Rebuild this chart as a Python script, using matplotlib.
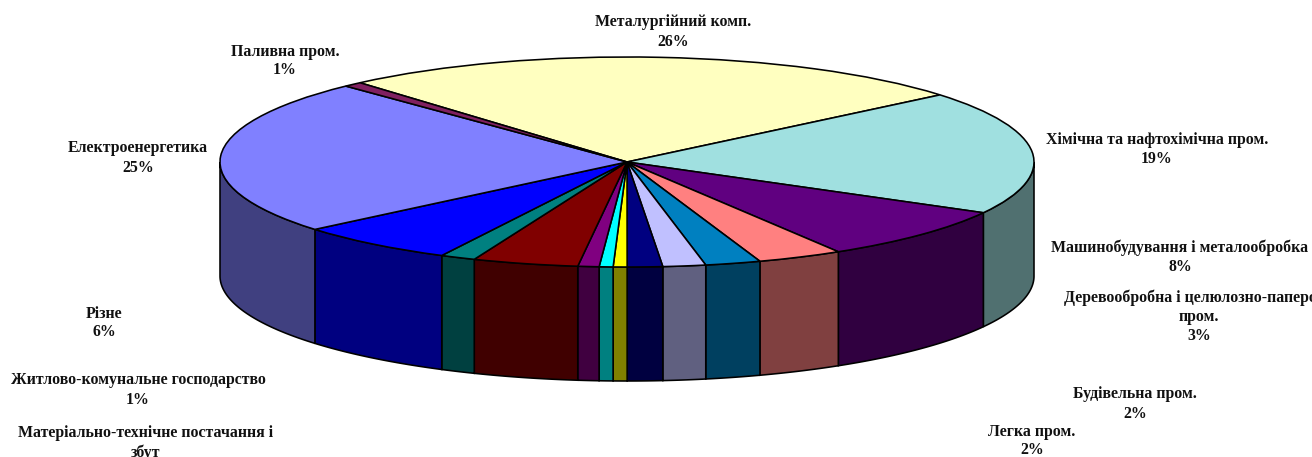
import numpy as np
import matplotlib
matplotlib.use('Agg')
import matplotlib.pyplot as plt

# slices clockwise, starting from the metallurgy one
shares = [25.4, 19.1, 8.3, 3.4, 2.2, 1.7, 1.4, 0.55, 0.55, 0.84, 4.2, 1.4, 6.4, 24.0, 0.75]
top_colors = ['#FFFFC0', '#A0E0E0', '#600080', '#FF8080', '#0080C0', '#C0C0FF', '#000080', '#FFFF00',
              '#00FFFF', '#800080', '#800000', '#008080', '#0000FF', '#8080FF', '#802060']
side_colors = ['#808060', '#507070', '#300040', '#804040', '#004060', '#606080', '#000040', '#808000',
               '#008080', '#400040', '#400000', '#004040', '#000080', '#404080', '#401030']

labels = ['Металургійний комп.\n26%', 'Хімічна та нафтохімічна пром.\n19%',
          'Машинобудування і металообробка\n8%', 'Деревообробна і целюлозно-паперова\nпром.\n3%',
          'Будівельна пром.\n2%', 'Легка пром.\n2%', 'Матеріально-технічне постачання і\nзбут',
          'Житлово-комунальне господарство\n1%', 'Різне\n6%', 'Електроенергетика\n25%', 'Паливна пром.\n1%']
label_x = [673, 1157, 1180, 1199, 1135, 1032, 146, 138, 104, 138, 285]
label_y = [32, 150, 257, 317, 404, 441, 443, 390, 323, 158, 61]

W, H = 1312, 457
cx, cy, rx, ry, depth = 627, 162, 407, 105, 114
start = -41.0  # degrees clockwise from the top

plt.rcParams['font.family'] = ['Liberation Serif', 'DejaVu Serif']
fig = plt.figure(figsize=(W / 100, H / 100), dpi=100)
ax = fig.add_axes([0, 0, 1, 1])

# one data unit = rx px across and ry px up, so the pie comes out as an ellipse
wedges, _ = ax.pie(shares, colors=top_colors, startangle=90 - start, counterclock=False,
                   radius=1, wedgeprops={'edgecolor': 'black', 'linewidth': 1.15})
for w in wedges:
    w.set_zorder(3)
ax.set_aspect('auto')
ax.set_xlim(-cx / rx, (W - cx) / rx)
ax.set_ylim((cy - H) / ry, cy / ry)
ax.axis('off')

# visible side wall, only the front half of the rim
d = depth / ry
edges = start + 360 * np.cumsum([0] + shares) / sum(shares)
for a, b, col in zip(edges[:-1], edges[1:], side_colors):
    for k in (0, 360):
        lo, hi = max(a + k, 90), min(b + k, 270)
        if hi <= lo:
            continue
        t = np.radians(np.linspace(lo, hi, 60))
        xs = np.sin(t)
        ys = np.cos(t)
        ax.fill(np.r_[xs, xs[::-1]], np.r_[ys, ys[::-1] - d], facecolor=col,
                edgecolor='black', linewidth=1.15, zorder=2)

for s, x, y in zip(labels, label_x, label_y):
    fig.text(x / W, 1 - y / H, s, ha='center', va='center', fontsize=11.4, fontweight='bold',
             color='#111111', linespacing=1.25)

fig.savefig('out.png', dpi=100)
